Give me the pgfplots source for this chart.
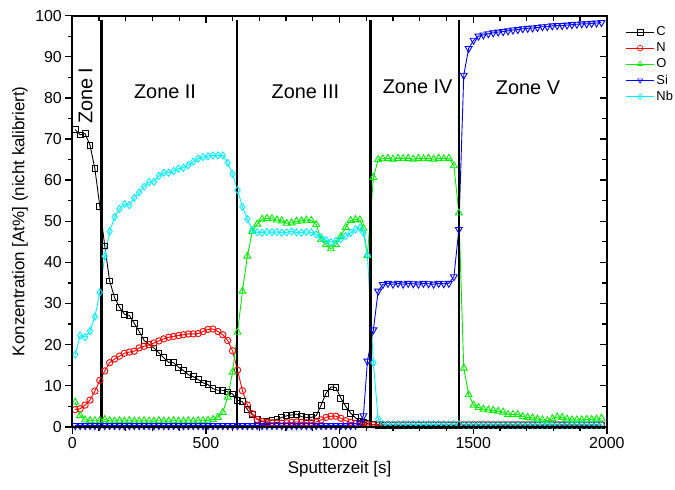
\documentclass[border=0pt]{standalone}
\usepackage{pgfplots}
\pgfplotsset{compat=1.18}
\usepackage{pgfplotstable}
\usepackage{fontspec}
\setmainfont{Liberation Sans}
\definecolor{cC}{RGB}{0,0,0}
\definecolor{cN}{RGB}{255,0,0}
\definecolor{cO}{RGB}{0,235,0}
\definecolor{cSi}{RGB}{0,0,255}
\definecolor{cNb}{RGB}{0,240,255}

\pgfplotstableread{
t C N O Si Nb
11 72.3 4.2 6.0 0.3 17.6
29.4 71.0 4.4 2.8 0.3 22.2
47.8 71.3 5.3 1.7 0.3 21.8
66.2 68.5 6.5 1.5 0.3 23.3
84.6 62.8 8.7 1.5 0.3 26.8
103 53.6 11.3 1.5 0.3 32.7
121.4 44.0 13.6 1.8 0.3 41.5
139.8 35.5 15.6 1.5 0.3 47.5
158.2 31.4 16.5 1.4 0.3 51.0
176.6 29.1 17.2 1.5 0.3 53.0
195 27.4 17.9 1.4 0.3 54.2
213.4 27.1 18.2 1.5 0.3 53.9
231.8 25.2 18.4 1.4 0.3 55.7
250.2 23.2 19.2 1.4 0.3 57.0
268.6 21.0 19.6 1.5 0.3 58.4
287 20.0 20.0 1.4 0.3 59.5
305.4 19.2 20.4 1.4 0.3 59.6
323.8 18.0 20.9 1.5 0.3 61.0
342.2 16.8 21.4 1.4 0.3 61.8
360.6 15.7 21.8 1.4 0.3 61.8
379 15.6 22.0 1.5 0.3 62.2
397.4 14.5 22.2 1.4 0.3 62.8
415.8 13.7 22.4 1.4 0.3 63.0
434.2 12.7 22.6 1.5 0.3 63.6
452.6 12.2 22.6 1.4 0.3 64.5
471 11.5 22.7 1.5 0.3 65.2
489.4 10.7 23.2 1.5 0.3 65.6
507.8 10.3 23.7 1.6 0.3 65.8
526.2 9.3 23.8 1.8 0.3 66.0
544.6 8.9 23.2 2.3 0.3 66.0
563 8.9 22.4 3.5 0.3 66.0
581.4 8.5 21.0 7.2 0.3 64.2
599.8 8.0 18.5 13.3 0.3 61.5
618.2 6.5 13.8 23.0 0.3 57.6
636.6 6.1 8.8 33.0 0.3 53.5
655 4.2 5.3 41.5 0.3 50.5
673.4 3.0 3.2 47.5 0.3 47.8
691.8 1.9 1.8 49.3 0.3 47.3
710.2 1.4 1.3 50.5 0.3 47.2
728.6 1.4 1.1 50.7 0.3 47.4
747 1.6 1.0 50.6 0.3 47.3
765.4 1.8 0.9 50.3 0.3 47.4
783.8 2.3 0.9 50.1 0.3 47.2
802.2 2.7 1.0 49.5 0.3 47.3
820.6 2.9 1.1 49.6 0.3 47.5
839 3.1 1.2 50.0 0.3 47.3
857.4 2.5 1.1 50.1 0.3 47.2
875.8 2.3 1.0 50.3 0.3 47.4
894.2 2.3 1.0 50.2 0.3 47.3
912.6 2.7 1.2 49.2 0.3 46.8
931 5.3 1.7 45.5 0.3 46.1
949.4 8.2 2.3 44.3 0.3 45.4
967.8 9.7 2.6 43.3 0.3 44.9
986.2 9.6 2.6 44.3 0.3 45.2
1004.6 7.0 2.1 46.3 0.3 45.7
1023 5.0 1.5 48.5 0.3 46.4
1041.4 3.3 1.1 50.2 0.3 47.2
1059.8 2.2 0.8 50.4 0.4 48.0
1076.3 1.4 0.7 50.3 0.9 48.4
1089.3 1.1 0.6 48.3 2.7 47.2
1104.2 0.8 0.5 41.7 16.0 41.7
1126.5 0.5 0.5 60.6 23.6 15.6
1144.3 0.4 0.6 65.0 33.0 1.9
1161.8 0.3 0.6 65.2 34.6 0.7
1180.8 0.3 0.6 65.3 34.9 0.6
1199.8 0.3 0.6 65.1 34.7 0.6
1218.8 0.3 0.6 65.3 34.9 0.6
1237.8 0.3 0.6 65.2 34.7 0.6
1256.8 0.3 0.6 65.3 34.9 0.6
1275.8 0.3 0.6 65.1 34.8 0.6
1294.8 0.3 0.6 65.3 34.7 0.6
1313.8 0.3 0.6 65.2 34.9 0.6
1332.8 0.3 0.6 65.3 34.8 0.6
1351.8 0.3 0.6 65.1 34.7 0.6
1370.8 0.3 0.6 65.3 34.9 0.6
1389.8 0.3 0.6 65.2 34.8 0.6
1408.8 0.3 0.6 65.3 34.9 0.6
1427.8 0.3 0.6 63.5 36.5 0.6
1446.2 0.3 0.6 52.0 48.0 0.6
1464.6 0.3 0.6 14.3 85.5 0.5
1483 0.3 0.6 7.8 92.0 0.5
1501.4 0.3 0.6 5.3 94.0 0.5
1519.8 0.3 0.6 4.7 95.0 0.5
1538.2 0.3 0.6 4.3 95.3 0.5
1556.6 0.3 0.6 4.1 95.6 0.5
1575 0.3 0.6 4.0 95.8 0.5
1593.4 0.3 0.6 3.8 96.0 0.5
1611.8 0.3 0.6 3.6 96.1 0.5
1630.2 0.3 0.6 3.0 96.3 0.5
1648.6 0.3 0.6 3.0 96.5 0.5
1667 0.3 0.6 3.0 96.6 0.5
1685.4 0.3 0.6 2.5 96.8 0.5
1703.8 0.3 0.6 2.3 96.9 0.5
1722.2 0.3 0.6 2.2 97.0 0.5
1740.6 0.3 0.6 1.9 97.1 0.5
1759 0.3 0.6 1.7 97.3 0.5
1777.4 0.3 0.6 1.5 97.3 0.5
1795.8 0.3 0.6 2.0 97.5 0.5
1814.2 0.3 0.6 2.4 97.6 0.5
1832.6 0.3 0.6 2.3 97.6 0.5
1851 0.3 0.6 1.9 97.7 0.5
1869.4 0.3 0.6 1.7 97.8 0.5
1887.8 0.3 0.6 1.7 97.9 0.5
1906.2 0.3 0.6 1.7 98.0 0.5
1924.6 0.3 0.6 1.8 98.0 0.5
1943 0.3 0.6 1.8 98.1 0.5
1961.4 0.3 0.6 1.9 98.2 0.5
1979.8 0.3 0.6 2.1 98.3 0.5
}\data

\begin{document}
\begin{tikzpicture}
\pgfplotsset{
  common/.style={
    scale only axis, width=537.6bp, height=413.6bp,
    xmin=0, xmax=2000, ymin=0, ymax=100,
    xtick={0,500,1000,1500,2000}, minor x tick num=4,
    ytick={0,10,...,100}, minor y tick num=1,
    axis line style={line width=1.8bp},
    every tick/.style={line width=1.3bp, black},
    major tick length=7bp, minor tick length=4.5bp,
  }
}
\begin{axis}[name=main, common,
  xtick pos=left, ytick pos=left, tick align=outside,
  ticklabel style={font=\fontsize{16bp}{19bp}\selectfont},
  /pgf/number format/assume math mode=true,
  /pgf/number format/1000 sep={},
  xlabel={Sputterzeit [s]},
  ylabel={Konzentration [At\%] (nicht kalibriert)},
  label style={font=\fontsize{17bp}{20bp}\selectfont},
  xlabel style={at={(axis description cs:0.5,-0.113)}, anchor=base},
  ylabel style={at={(axis description cs:-0.098,0.5)}, anchor=center},
  legend style={draw=none, fill=none, at={(1.035,0.978)}, anchor=north west,
    font=\fontsize{13bp}{15bp}\selectfont, row sep=1.6bp, inner sep=0pt,
    nodes={inner xsep=2bp}},
  legend cell align=left,
  legend image code/.code={\draw[mark repeat=2,mark phase=2,#1,mark size=2.9bp,every mark/.append style={line width=0.6bp}] plot coordinates {(0bp,0bp) (14bp,0bp) (28bp,0bp)};},
  every axis plot/.append style={line width=0.9bp},
]
\addplot[cC, mark=square, mark size=2.9bp, mark options={solid, line width=0.9bp}] table[x=t, y=C] {\data};
\addlegendentry{C}
\addplot[cN, mark=o, mark size=3.2bp, mark options={solid, line width=0.9bp}] table[x=t, y=N] {\data};
\addlegendentry{N}
\addplot[cO, mark=triangle, mark size=4.0bp, mark options={solid, line width=0.9bp}] table[x=t, y=O] {\data};
\addlegendentry{O}
\addplot[cSi, mark=triangle, mark size=4.0bp, mark options={solid, rotate=180, line width=0.9bp}] table[x=t, y=Si] {\data};
\addlegendentry{Si}
\addplot[cNb, mark=diamond, mark size=3.6bp, mark options={solid, line width=0.9bp}] table[x=t, y=Nb] {\data};
\addlegendentry{Nb}
\addplot[black, line width=2.5bp, forget plot] coordinates {(110,0) (110,99)};
\addplot[black, line width=2.5bp, forget plot] coordinates {(616,0) (616,99)};
\addplot[black, line width=2.5bp, forget plot] coordinates {(1116,0) (1116,99)};
\addplot[black, line width=2.5bp, forget plot] coordinates {(1446,0) (1446,99)};
\node[font=\fontsize{20bp}{24bp}\selectfont, rotate=90] at (axis cs:50,80.5) {Zone I};
\node[font=\fontsize{20bp}{24bp}\selectfont] at (axis cs:347,81.6) {Zone II};
\node[font=\fontsize{20bp}{24bp}\selectfont] at (axis cs:872,81.6) {Zone III};
\node[font=\fontsize{20bp}{24bp}\selectfont] at (axis cs:1292,82.8) {Zone IV};
\node[font=\fontsize{20bp}{24bp}\selectfont] at (axis cs:1705,82.5) {Zone V};
\end{axis}
\begin{axis}[common, at={(main.south west)}, anchor=south west,
  xtick pos=right, ytick pos=right, tick align=inside,
  xticklabels={}, yticklabels={}, minor tick length=5bp]
\end{axis}
\path ([shift={(-72.7bp,-62.7bp)}]main.south west) rectangle ([shift={(64.7bp,15.7bp)}]main.north east);
\end{tikzpicture}
\end{document}
